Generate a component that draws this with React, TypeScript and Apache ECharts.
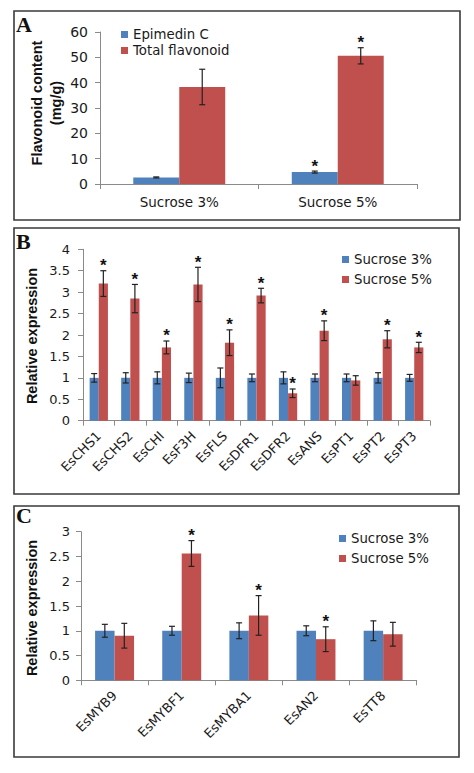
import React, { useEffect, useRef } from "react";
import * as echarts from "echarts";

// Panel A
const catsA = ["Sucrose 3%", "Sucrose 5%"];
const epimedin = [2.6, 4.7];
const epimedinErr = [0.2, 0.4];
const epimedinStar = [false, true];
const totalFlav = [38.3, 50.6];
const totalFlavErr = [7.0, 3.2];
const totalFlavStar = [false, true];
const ticksA = ["0", "10", "20", "30", "40", "50", "60"];

// Panel B
const catsB = ["EsCHS1", "EsCHS2", "EsCHI", "EsF3H", "EsFLS", "EsDFR1", "EsDFR2", "EsANS", "EsPT1", "EsPT2", "EsPT3"];
const b3 = [1, 1, 1, 1, 1, 1, 1, 1, 1, 1, 1];
const b3Err = [0.1, 0.12, 0.14, 0.11, 0.23, 0.09, 0.14, 0.09, 0.09, 0.12, 0.08];
const b5 = [3.2, 2.85, 1.71, 3.18, 1.82, 2.92, 0.64, 2.1, 0.94, 1.9, 1.71];
const b5Err = [0.3, 0.33, 0.15, 0.4, 0.3, 0.17, 0.1, 0.23, 0.11, 0.2, 0.12];
const b5Star = [true, true, true, true, true, true, true, true, false, true, true];

// Panel C
const catsC = ["EsMYB9", "EsMYBF1", "EsMYBA1", "EsAN2", "EsTT8"];
const c3 = [1, 1, 1, 1, 1];
const c3Err = [0.13, 0.09, 0.16, 0.1, 0.2];
const c5 = [0.9, 2.56, 1.31, 0.83, 0.93];
const c5Err = [0.25, 0.26, 0.4, 0.25, 0.24];
const c5Star = [false, true, true, true, false];

const BLUE = "#4F81BD";
const RED = "#C0504D";
const FONT = "DejaVu Sans, sans-serif";
const BOLD_FONT = "Liberation Sans, Arial, sans-serif";
const BAR_RATIO = 0.29;

function errSeries(name: string, xIdx: number, vals: number[], errs: number[], stars: boolean[], side: number) {
  return {
    type: "custom",
    name: name + "_err",
    xAxisIndex: xIdx,
    yAxisIndex: xIdx,
    silent: true,
    z: 5,
    data: vals.map((v, i) => [i, v, errs[i], stars[i] ? 1 : 0]),
    renderItem: (params: any, api: any) => {
      const i = api.value(0);
      const v = api.value(1);
      const e = api.value(2);
      const s = api.value(3);
      const band = api.size([1, 0])[0];
      const off = ((band * BAR_RATIO) / 2) * side;
      const c = api.coord([i, v]);
      const x = c[0] + off;
      const top = api.coord([i, v + e])[1];
      const bot = api.coord([i, v - e])[1];
      const cap = 3;
      const st = { stroke: "#222", lineWidth: 1.2 };
      const children: any[] = [
        { type: "line", shape: { x1: x, y1: top, x2: x, y2: bot }, style: st },
        { type: "line", shape: { x1: x - cap, y1: top, x2: x + cap, y2: top }, style: st },
        { type: "line", shape: { x1: x - cap, y1: bot, x2: x + cap, y2: bot }, style: st },
      ];
      if (s) {
        children.push({
          type: "text",
          style: {
            text: "*",
            x: x,
            y: top - 5,
            align: "center",
            verticalAlign: "middle",
            fill: "#111",
            font: "bold 17px " + BOLD_FONT,
          },
        });
      }
      return { type: "group", children };
    },
  };
}

function barSeries(name: string, idx: number, data: number[], color: string) {
  return {
    type: "bar",
    name,
    xAxisIndex: idx,
    yAxisIndex: idx,
    data,
    barWidth: BAR_RATIO * 100 + "%",
    barGap: "0%",
    itemStyle: { color },
  };
}

export default function App() {
  const ref = useRef<HTMLDivElement>(null);
  useEffect(() => {
    if (!ref.current) return;
    const chart = echarts.init(ref.current, undefined, { renderer: "svg" });
    const axisLine = { show: true, lineStyle: { color: "#8a8a8a", width: 1 } };
    const axisTick = { show: true, length: 5, lineStyle: { color: "#8a8a8a" } };
    const catAxis = (idx: number, data: string[], rotate: number, fs: number, margin: number) => ({
      type: "category",
      gridIndex: idx,
      data,
      axisLine,
      axisTick,
      axisLabel: { rotate, color: "#1a1a1a", fontSize: fs, fontFamily: FONT, margin, interval: 0 },
    });
    const valAxis = (idx: number, max: number, interval: number, fs: number, margin: number, decimals: boolean) => ({
      type: "value",
      gridIndex: idx,
      min: 0,
      max,
      interval,
      axisLine,
      axisTick: { show: true, length: 5, lineStyle: { color: "#8a8a8a" } },
      splitLine: { show: false },
      axisLabel: {
        color: "#1a1a1a",
        fontSize: fs,
        fontFamily: FONT,
        margin,
        formatter: decimals ? (v: number) => String(Math.round(v * 10) / 10) : (v: number) => String(v),
      },
    });
    const legendText = { fontSize: 13.3, fontFamily: FONT, color: "#1a1a1a" };
    const option: any = {
      animation: false,
      backgroundColor: "#ffffff",
      grid: [
        { left: 100, top: 32, right: 57, bottom: 589 },
        { left: 83, top: 249.3, right: 44, bottom: 352.3 },
        { left: 81, top: 531.7, right: 57.3, bottom: 92.7 },
      ],
      xAxis: [
        catAxis(0, catsA, 0, 13.5, 11),
        catAxis(1, catsB, 45, 13, 13),
        catAxis(2, catsC, 45, 13, 13),
      ],
      yAxis: [
        valAxis(0, Number(ticksA[ticksA.length - 1]), 10, 14, 12, false),
        valAxis(1, 4, 0.5, 13, 13, true),
        valAxis(2, 3, 0.5, 13, 11, true),
      ],
      legend: [
        {
          data: ["Epimedin C", "Total flavonoid"],
          orient: "vertical",
          left: 116,
          top: 23,
          icon: "rect",
          itemWidth: 7,
          itemHeight: 7,
          itemGap: 3,
          textStyle: legendText,
        },
        {
          data: ["Sucrose 3%", "Sucrose 5%"],
          orient: "vertical",
          left: 337,
          top: 248,
          icon: "rect",
          itemWidth: 7,
          itemHeight: 7,
          itemGap: 7,
          textStyle: legendText,
        },
        {
          data: ["Sucrose 3%", "Sucrose 5%"],
          orient: "vertical",
          left: 334,
          top: 527,
          icon: "rect",
          itemWidth: 7,
          itemHeight: 7,
          itemGap: 7,
          textStyle: legendText,
        },
      ],
      series: [
        barSeries("Epimedin C", 0, epimedin, BLUE),
        barSeries("Total flavonoid", 0, totalFlav, RED),
        errSeries("Epimedin C", 0, epimedin, epimedinErr, epimedinStar, -1),
        errSeries("Total flavonoid", 0, totalFlav, totalFlavErr, totalFlavStar, 1),
        barSeries("Sucrose 3%", 1, b3, BLUE),
        barSeries("Sucrose 5%", 1, b5, RED),
        errSeries("B3", 1, b3, b3Err, b3.map(() => false), -1),
        errSeries("B5", 1, b5, b5Err, b5Star, 1),
        barSeries("Sucrose 3%", 2, c3, BLUE),
        barSeries("Sucrose 5%", 2, c5, RED),
        errSeries("C3", 2, c3, c3Err, c3.map(() => false), -1),
        errSeries("C5", 2, c5, c5Err, c5Star, 1),
      ],
      graphic: [
        { type: "rect", shape: { x: 14, y: 11, width: 446, height: 209 }, style: { fill: "none", stroke: "#3a3a3a", lineWidth: 1.6 }, z: 0 },
        { type: "rect", shape: { x: 14, y: 228, width: 445, height: 266 }, style: { fill: "none", stroke: "#3a3a3a", lineWidth: 1.6 }, z: 0 },
        { type: "rect", shape: { x: 14, y: 506, width: 445, height: 251 }, style: { fill: "none", stroke: "#3a3a3a", lineWidth: 1.6 }, z: 0 },
        { type: "text", x: 16, y: 13, style: { text: "A", font: "bold 22px Liberation Serif, serif", fill: "#111" } },
        { type: "text", x: 16, y: 230, style: { text: "B", font: "bold 22px Liberation Serif, serif", fill: "#111" } },
        { type: "text", x: 16, y: 504, style: { text: "C", font: "bold 22px Liberation Serif, serif", fill: "#111" } },
        {
          type: "text", x: 37, y: 103, rotation: Math.PI / 2,
          style: { text: "Flavonoid content", font: "bold 14.5px " + BOLD_FONT, fill: "#111", align: "center", verticalAlign: "middle" },
        },
        {
          type: "text", x: 56, y: 103, rotation: Math.PI / 2,
          style: { text: "(mg/g)", font: "bold 14.5px " + BOLD_FONT, fill: "#111", align: "center", verticalAlign: "middle" },
        },
        {
          type: "text", x: 32, y: 336, rotation: Math.PI / 2,
          style: { text: "Relative expression", font: "bold 14.5px " + BOLD_FONT, fill: "#111", align: "center", verticalAlign: "middle" },
        },
        {
          type: "text", x: 32, y: 608, rotation: Math.PI / 2,
          style: { text: "Relative expression", font: "bold 14.5px " + BOLD_FONT, fill: "#111", align: "center", verticalAlign: "middle" },
        },
      ],
    };
    chart.setOption(option);
    return () => chart.dispose();
  }, []);
  return <div ref={ref} style={{ position: "absolute", left: 0, top: 0, width: 474, height: 773 }} />;
}
